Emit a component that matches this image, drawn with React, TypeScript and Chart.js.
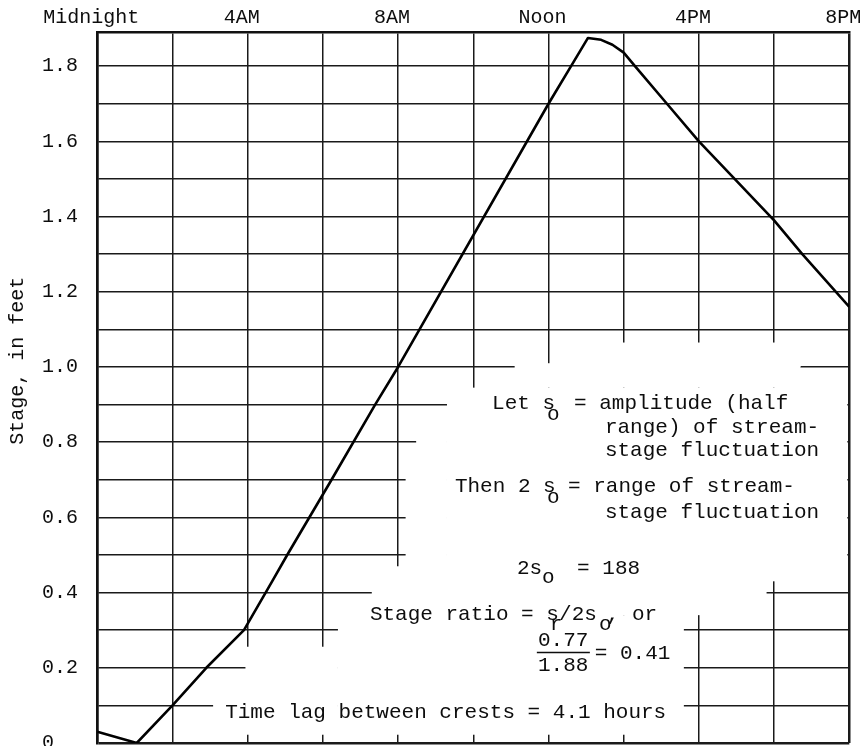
import React, { useEffect, useRef } from 'react';
import { Chart, registerables } from 'chart.js';

Chart.register(...registerables);

// ---- data (hours after midnight, stage in feet) ----
const hours = [0, 1.05, 2, 2.9, 3.9, 4.65, 5.05, 6.23, 7.39, 8, 12, 12.6, 13.05, 13.4, 13.7, 14.0, 14.3, 15.15, 16, 16.95, 18, 18.75, 20];
const stage = [0.03, 0, 0.1, 0.2, 0.3, 0.43, 0.5, 0.7, 0.9, 1.0, 1.7, 1.8, 1.875, 1.87, 1.857, 1.836, 1.8, 1.7, 1.6, 1.5, 1.39, 1.3, 1.16];

const timeTickValues = [0, 4, 8, 12, 16, 20];
const timeTickLabels = ['Midnight', '4AM', '8AM', 'Noon', '4PM', '8PM'];

const yAxisTitle = 'Stage, in feet';

// erased grid regions [x0, x1, y0, y1] in data units
const masks = [
  [11.1, 18.7, 0.945, 1.01],
  [12.6, 18.7, 1.0, 1.065],
  [9.3, 20, 0.43, 0.945],
  [8.48, 9.3, 0.75, 0.85],
  [8.2, 9.3, 0.43, 0.75],
  [7.3, 17.8, 0.34, 0.47],
  [6.4, 15.6, 0.022, 0.34],
  [3.94, 6.4, 0.022, 0.256],
  [3.08, 3.94, 0.022, 0.15],
];

// annotation text pieces: text, x (hours), y (feet)
const notes: [string, number, number][] = [
  ['Let s', 10.5, 0.904],
  ['o', 11.96, 0.875],
  ['= amplitude (half', 12.68, 0.904],
  ['range) of stream-', 13.5, 0.84],
  ['stage fluctuation', 13.5, 0.779],
  ['Then 2 s', 9.51, 0.681],
  ['o', 11.96, 0.654],
  ['= range of stream-', 12.52, 0.681],
  ['stage fluctuation', 13.5, 0.614],
  ['2s', 11.16, 0.465],
  ['o', 11.83, 0.439],
  ['= 188', 12.76, 0.465],
  ['Stage ratio = s', 7.25, 0.343],
  ['r', 12.03, 0.315],
  ['/2s', 12.28, 0.343],
  ['o', 13.34, 0.315],
  [', or', 13.55, 0.343],
  ['0.77', 11.72, 0.274],
  ['1.88', 11.72, 0.207],
  ['= 0.41', 13.23, 0.237],
  ['Time lag between crests = 4.1 hours', 3.4, 0.082],
];
const fractionBar = [11.69, 13.1, 0.242];

const FONT = '"Liberation Mono", "DejaVu Sans Mono", monospace';
const INK = '#0d0d0d';

const decorPlugin = {
  id: 'decor',
  beforeDatasetsDraw(chart: any) {
    const { ctx, chartArea: a, scales } = chart;
    const x = scales.x, y = scales.y;
    ctx.save();
    ctx.fillStyle = '#fff';
    for (const [x0, x1, y0, y1] of masks) {
      const l = Math.max(x.getPixelForValue(x0), a.left + 2);
      const r = Math.min(x.getPixelForValue(x1), a.right - 2);
      const t = Math.max(y.getPixelForValue(y1), a.top + 2);
      const b = Math.min(y.getPixelForValue(y0), a.bottom - 2);
      ctx.fillRect(l, t, r - l, b - t);
    }
    ctx.restore();
  },
  afterDraw(chart: any) {
    const { ctx, chartArea: a, scales } = chart;
    const x = scales.x, y = scales.y;
    ctx.save();
    ctx.fillStyle = INK;
    ctx.strokeStyle = INK;
    ctx.font = `21px ${FONT}`;
    ctx.textAlign = 'left';
    ctx.textBaseline = 'middle';
    for (const [t, h, v] of notes) {
      ctx.fillText(t, x.getPixelForValue(h), y.getPixelForValue(v));
    }
    ctx.lineWidth = 1.5;
    ctx.beginPath();
    const by = Math.round(y.getPixelForValue(fractionBar[2])) + 0.5;
    ctx.moveTo(x.getPixelForValue(fractionBar[0]), by);
    ctx.lineTo(x.getPixelForValue(fractionBar[1]), by);
    ctx.stroke();

    // y axis title
    ctx.font = `20px ${FONT}`;
    ctx.textAlign = 'center';
    ctx.translate(17.5, (a.top + a.bottom) / 2 - 27);
    ctx.rotate(-Math.PI / 2);
    ctx.fillText(yAxisTitle, 0, 0);
    ctx.restore();
  },
};

export default function App() {
  const ref = useRef<HTMLCanvasElement>(null);
  useEffect(() => {
    document.body.style.margin = '0';
    const chart = new Chart(ref.current as HTMLCanvasElement, {
      type: 'line',
      data: {
        datasets: [
          {
            data: hours.map((h, i) => ({ x: h, y: stage[i] })),
            borderColor: '#000',
            borderWidth: 2.6,
            borderJoinStyle: 'round',
            pointRadius: 0,
            tension: 0,
            fill: false,
          },
        ],
      },
      options: {
        animation: false,
        responsive: true,
        maintainAspectRatio: false,
        layout: { padding: { left: 42, right: 10.7, top: 0, bottom: 3 } },
        plugins: { legend: { display: false }, tooltip: { enabled: false }, title: { display: false } },
        scales: {
          x: {
            type: 'linear',
            position: 'top',
            min: 0,
            max: 20,
            afterFit: (s: any) => {
              s.height = 32.3;
              s.paddingLeft = 0;
              s.paddingRight = 0;
            },
            grid: {
              color: '#1a1a1a',
              lineWidth: (c: any) => (c.tick && c.tick.value === 20 ? 2.5 : 1.5),
              drawTicks: false,
            },
            border: { display: true, color: '#111', width: 2.5 },
            ticks: {
              stepSize: 2,
              autoSkip: false,
              maxRotation: 0,
              padding: 3,
              labelOffset: -6,
              color: INK,
              font: { family: FONT, size: 20 },
              callback: (v: any) => {
                const i = timeTickValues.indexOf(Number(v));
                return i >= 0 ? timeTickLabels[i] : '';
              },
            },
          },
          y: {
            type: 'linear',
            min: 0,
            max: 1.89,
            afterFit: (s: any) => {
              s.width = 55.3;
              s.paddingTop = 0;
              s.paddingBottom = 0;
            },
            grid: {
              color: '#1a1a1a',
              lineWidth: (c: any) => (c.tick && c.tick.value === 0 ? 2.5 : 1.5),
              drawTicks: false,
            },
            border: { display: true, color: '#111', width: 2.5 },
            ticks: {
              stepSize: 0.1,
              includeBounds: false,
              autoSkip: false,
              crossAlign: 'far',
              padding: 0,
              color: INK,
              font: { family: FONT, size: 20 },
              callback: (v: any) => {
                const n = Number(v) * 10;
                const k = Math.round(n);
                if (Math.abs(n - k) > 0.01 || k % 2 !== 0) return '';
                return k === 0 ? '0' : (k / 10).toFixed(1);
              },
            },
          },
        },
      },
      plugins: [decorPlugin],
    } as any);
    return () => chart.destroy();
  }, []);
  return (
    <div style={{ width: 860, height: 746, position: 'relative' }}>
      <canvas ref={ref} />
    </div>
  );
}
